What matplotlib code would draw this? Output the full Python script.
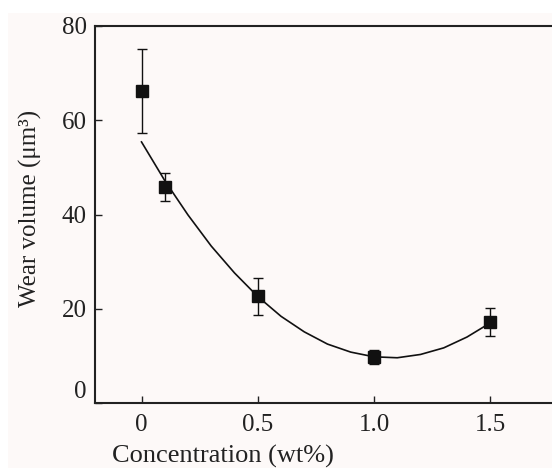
import matplotlib.pyplot as plt
import matplotlib.transforms as mtransforms
from matplotlib.patches import Rectangle

# measured points
conc = [0.0, 0.1, 0.5, 1.0, 1.5]
wear = [66.2, 45.8, 22.6, 9.8, 17.2]
wear_err = [9.0, 3.0, 4.0, 1.5, 3.0]

# fitted curve
fit_x = [0.0, 0.1, 0.2, 0.3, 0.4, 0.5, 0.6, 0.7, 0.8, 0.9,
         1.0, 1.1, 1.2, 1.3, 1.4, 1.5]
fit_y = [55.4, 47.2, 39.9, 33.3, 27.6, 22.6, 18.4, 15.1, 12.5, 10.8,
         9.8, 9.6, 10.3, 11.7, 14.0, 17.0]

xticks = [0, 0.5, 1.0, 1.5]
xticklabels = ['0', '0.5', '1.0', '1.5']
yticks = [0, 20, 40, 60, 80]

plt.rcParams['font.family'] = 'Liberation Serif'

W, H = 552, 468
fig = plt.figure(figsize=(W / 100, H / 100), dpi=100)
fig.patch.set_facecolor('white')
fig.patches.append(Rectangle((8 / W, 0), 1 - 8 / W, 1 - 13 / H,
                             transform=fig.transFigure, facecolor='#fdf9f8',
                             edgecolor='none', zorder=-10))

# axes spans beyond the right edge, like the cropped original
left, right = 95 / W, 560 / W
bottom, top = 1 - 403 / H, 1 - 26 / H
ax = fig.add_axes([left, bottom, right - left, top - bottom])
ax.set_facecolor('none')
aw, ah = 560 - 95, 403 - 26

ax.plot(fit_x, fit_y, color='#111111', lw=1.2, zorder=2)
ax.errorbar(conc, wear, yerr=wear_err, fmt='s', color='#111111',
            ms=8, elinewidth=1.0, capsize=3.5, capthick=1.0, zorder=3)

ax.set_xlim(-0.2, 1.8)
ax.set_ylim(0, 80)
ax.set_xticks(xticks)
ax.set_xticklabels(xticklabels)
ax.set_yticks(yticks)

for side in ['top', 'left', 'bottom']:
    ax.spines[side].set_linewidth(1.5)
    ax.spines[side].set_color('#222222')
ax.spines['right'].set_visible(False)

ax.tick_params(direction='in', length=5, width=1.0, labelsize=18,
               colors='#222222')
ax.tick_params(axis='x', pad=8)
ax.tick_params(axis='y', pad=6)

# the "0" on the y axis sits a bit above the corner
lab0 = ax.get_yticklabels()[0]
lab0.set_transform(lab0.get_transform() +
                   mtransforms.ScaledTranslation(0, 14 / 100, fig.dpi_scale_trans))

ax.set_xlabel('Concentration (wt%)', fontsize=19, color='#222222')
ax.xaxis.set_label_coords((223 - 95) / aw, -(445 - 403) / ah)
ax.set_ylabel('Wear volume (μm³)', fontsize=18, color='#222222')
ax.yaxis.set_label_coords(-(95 - 42) / aw, (403 - 208) / ah)

plt.savefig('out.png', dpi=100, facecolor=fig.get_facecolor())
